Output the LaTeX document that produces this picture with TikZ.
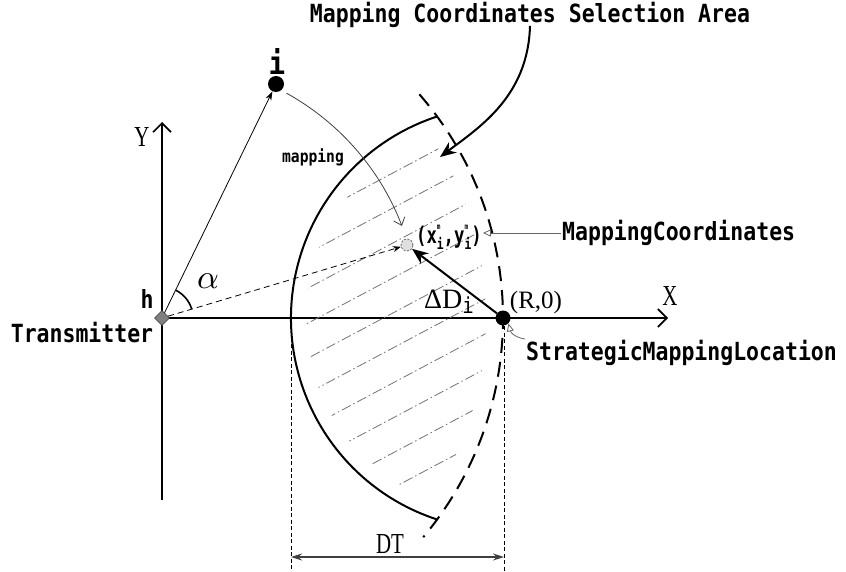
\documentclass[tikz,border=0pt]{standalone}
\usepackage{fontspec}
\setmainfont{Liberation Serif}
\newfontfamily\monofnt[FakeStretch=0.86]{DejaVu Sans Mono}
\newfontfamily\condmono[FakeStretch=0.75]{DejaVu Sans Mono}
\newfontfamily\narrowserif[FakeStretch=0.72]{Liberation Serif}
\usetikzlibrary{arrows.meta,shapes.geometric}
\newcommand{\mapsub}{\rlap{\raisebox{1.15ex}{\fontsize{8}{8}\selectfont m}}\raisebox{-0.45ex}{\fontsize{15}{15}\selectfont i}}

\begin{document}
\begin{tikzpicture}[x=1pt, y=-1pt,
  lbl/.style={font=\monofnt\bfseries\fontsize{25}{27}\selectfont, inner sep=1pt},
  axislbl/.style={font=\narrowserif\fontsize{29}{31}\selectfont, inner sep=0pt},
  axis/.style={line width=2pt, -{Straight Barb[length=9pt,width=18pt,line width=1.6pt]}},
  edge/.style={line width=2pt},
  rim/.style={line width=2pt, dash pattern=on 15pt off 9pt},
  thinline/.style={line width=0.8pt},
  hatch/.style={line width=0.8pt, black!55, dash pattern=on 10pt off 3pt on 1.5pt off 3pt},
  dimline/.style={line width=0.7pt, dash pattern=on 4pt off 2.5pt},
  ptr/.style={line width=0.8pt, black!60, -{Triangle[open,length=8pt,width=7pt]}},
  dot/.style={circle, fill=black, inner sep=0pt, minimum size=#1}]
\useasboundingbox (0,0) rectangle (846,572);
% axes
\coordinate (O) at (162,318);
\coordinate (xend) at (668,318);
\coordinate (yend) at (162,122);
\coordinate (ybot) at (162,500);
\draw[axis] (ybot) -- (yend);
\draw[axis] (O) -- (xend);
\node[axislbl] (ylbl) at (142,137) {Y};
\node[axislbl] (xlbl) at (670,296) {X};
% selection area (hatched)
\begin{scope}
\clip (503,318) circle (197);
\clip (O) circle (324);
\foreach \k in {0,...,9}
  \draw[hatch] (280,233+35*\k) -- ++(-28:320);
\end{scope}
\draw[edge] (503,318) ++(108.1:212) arc[start angle=108.1, end angle=251.9, radius=212];
\draw[rim] (O) ++(-41:341) arc[start angle=-41, end angle=40, radius=341];
% DT dimension
\coordinate (dtL) at (291,318);
\coordinate (dtR) at (504,326);
\coordinate (dtB) at (0,572);
\draw[dimline] (dtL) -- (dtL |- dtB);
\draw[dimline] (dtR) -- (dtR |- dtB);
\draw[line width=1.2pt, black!75, {Stealth[length=11pt,width=7pt]}-{Stealth[length=11pt,width=7pt]}] (291,557) -- (504,557);
\node[axislbl] (dtlbl) at (390,544) {DT};
% points
\node[diamond, fill=gray, draw=black!70, line width=0.8pt, inner sep=0pt, minimum size=15pt] (tx) at (O) {};
\node[dot=16pt] (ipt) at (276,84) {};
\node[dot=15pt] (Rpt) at (503,318) {};
\node[circle, draw=black!60, dash pattern=on 2pt off 1.5pt, fill=gray!25, line width=0.8pt, inner sep=0pt, minimum size=12pt] (mpt) at (407,245) {};
% connectors
\draw[thinline, -{Stealth[length=9pt,width=6pt]}] (tx) -- (ipt);
\draw[thinline, dash pattern=on 6pt off 4pt, -{Stealth[length=8pt,width=6pt]}] (tx) -- (mpt);
\draw[line width=1.6pt] (O) ++(-64:31) arc[start angle=-64, end angle=-17, radius=31];
\draw[thinline, black!75, -{Straight Barb[length=7pt,width=12pt]}] (O) ++(-61:257) coordinate (mapstart) arc[start angle=-61, end angle=-21, radius=257];
\draw[line width=2pt, -{Stealth[length=16pt,width=13pt]}] (Rpt) -- (mpt);
% labels
\node[lbl, font=\monofnt\bfseries\fontsize{32}{34}\selectfont] (ilbl) at (277,61) {i};
\node[lbl] (hlbl) at (147,299) {h};
\node[lbl] (txlbl) at (82,333) {Transmitter};
\node[font=\normalsize, scale=3.4, inner sep=0pt] (alpha) at (208,281) {$\alpha$};
\node[font=\monofnt\bfseries\fontsize{17}{19}\selectfont] (maplbl) at (313,157) {mapping};
\node[font=\condmono\bfseries\fontsize{23}{25}\selectfont, inner sep=1pt, anchor=west] (mlbl) at (415,237)
  {(x\mapsub,y\mapsub)};
\node[font=\fontsize{28}{30}\selectfont, inner sep=0pt] (dlbl) at (449,302)
  {ΔD\raisebox{-0.35ex}{\monofnt\fontsize{22}{24}\selectfont i}};
\node[font=\fontsize{25}{27}\selectfont, inner sep=0pt] (rlbl) at (536,302) {(R,0)};
\node[lbl, anchor=west] (mclbl) at (561,233) {MappingCoordinates};
\node[lbl, anchor=west] (slbl) at (525,353) {StrategicMappingLocation};
\node[lbl] (ttl) at (530,15) {Mapping Coordinates Selection Area};
\coordinate (areatip) at (440,157);
\draw[ptr] (mclbl.west) -- (mlbl.east |- mclbl.west);
\draw[ptr] (slbl.north west) .. controls +(-12,-2) and +(2,8) .. (Rpt.south east);
\draw[edge, -{Stealth[length=16pt,width=13pt]}] ([yshift=3pt]ttl.south) .. controls +(-2,70) and +(40,-30) .. (areatip);
\end{tikzpicture}
\end{document}
